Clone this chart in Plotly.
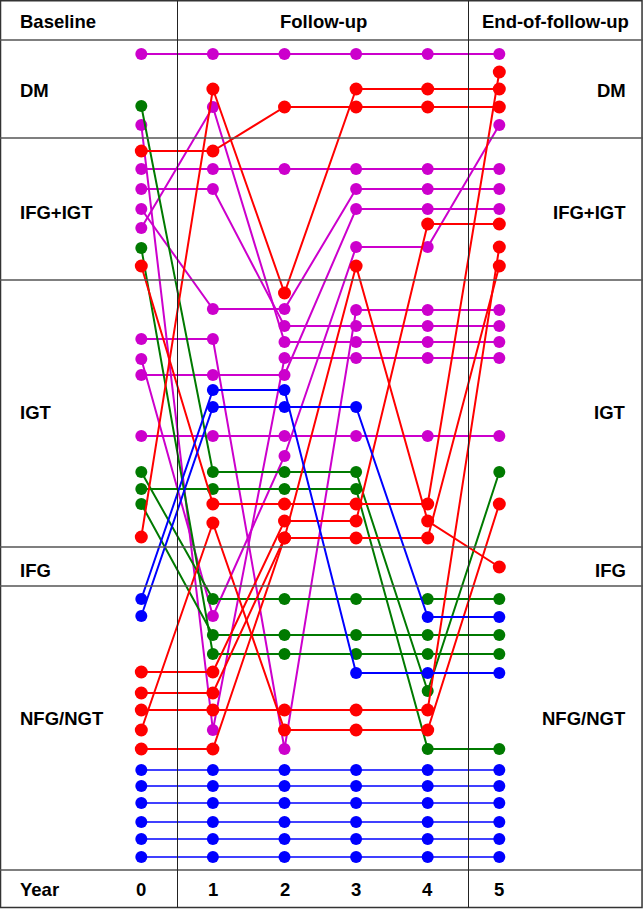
import plotly.graph_objects as go

# ---- data ----
years = [0, 1, 2, 3, 4, 5]
year_labels = ["0", "1", "2", "3", "4", "5"]
header_labels = ["Baseline", "Follow-up", "End-of-follow-up"]
state_labels = ["DM", "IFG+IGT", "IGT", "IFG", "NFG/NGT"]

# vertical position (chart units, top = 0) of each subject at each year
magenta_paths = [
    [54, 54, 54, 54, 54, 54],
    [125, 730, 358, 358, 358, 358],
    [169, 169, 169, 169, 169, 169],
    [189, 189, 326, 326, 326, 326],
    [209, 309, 309, 189, 189, 189],
    [228, 107, 342, 342, 342, 342],
    [339, 339, 749, 310, 310, 310],
    [359, 616, 456, 247, 247, 125],
    [375, 375, 375, 209, 209, 209],
    [436, 436, 436, 436, 436, 436],
]
red_paths = [
    [151, 151, 107, 107, 107, 107],
    [266, 504, 504, 504, 504, 72],
    [537, 89, 293, 89, 89, 89],
    [672, 672, 521, 521, 224, 224],
    [693, 693, 538, 266, 521, 567],
    [710, 710, 710, 710, 710, 247],
    [730, 523, 730, 730, 730, 504],
    [749, 749, 538, 538, 538, 266],
]
green_paths = [
    [106, 472, 472, 472, 691, 472],
    [248, 654, 654, 654, 654, 654],
    [472, 599, 599, 599, 599, 599],
    [489, 489, 489, 489, 749, 749],
    [504, 635, 635, 635, 635, 635],
]
blue_paths = [
    [599, 390, 390, 673, 673, 673],
    [616, 407, 407, 407, 617, 617],
]
blue_stable_levels = [770, 786, 803, 822, 839, 857]

# ---- layout constants (styles / positions) ----
W, H = 643, 910
X0_PX, STEP_PX = 141.3, 71.6
x_min = -X0_PX / STEP_PX
x_max = (W - X0_PX) / STEP_PX

band_lines = [40, 138, 280, 547, 586, 870]
state_label_y = [90, 212, 412, 570, 718]
FONT = "Liberation Sans, Arial, sans-serif"
FS = 18.5

fig = go.Figure()

def add_group(paths, color, msize, lw):
    for p in paths:
        fig.add_trace(go.Scatter(
            x=years, y=p, mode="lines+markers",
            line=dict(color=color, width=lw),
            marker=dict(color=color, size=msize),
            hoverinfo="skip", showlegend=False))

add_group([[lv] * len(years) for lv in blue_stable_levels], "#0000FF", 12, 1.5)
add_group(magenta_paths, "#CC00CC", 12, 2)
add_group(green_paths, "#007A00", 12, 2)
add_group(red_paths, "#FF0000", 13, 2)
add_group(blue_paths, "#0000FF", 12, 2)

shapes = []
# outer frame
shapes.append(dict(type="rect", xref="paper", yref="y", x0=0.0008, x1=0.9985,
                   y0=0.8, y1=907.5, line=dict(color="#333333", width=1.5)))
for yv in band_lines:
    shapes.append(dict(type="line", xref="paper", yref="y", x0=0, x1=1,
                       y0=yv, y1=yv, line=dict(color="#555555", width=1.6)))
for xv in [(177.5 - X0_PX) / STEP_PX, (468.5 - X0_PX) / STEP_PX]:
    shapes.append(dict(type="line", xref="x", yref="y", x0=xv, x1=xv,
                       y0=0.8, y1=907.5, line=dict(color="#222222", width=1)))

ann = []
def text(s, x, y, xref, anchor):
    ann.append(dict(text="<b>" + s + "</b>", x=x, y=y, xref=xref, yref="y",
                    xanchor=anchor, yanchor="middle", showarrow=False,
                    font=dict(family=FONT, size=FS, color="black")))

text(header_labels[0], 18 / W, 21, "paper", "left")
text(header_labels[1], 323.5 / W, 21, "paper", "center")
text(header_labels[2], 555.5 / W, 21, "paper", "center")
for lab, yv in zip(state_labels, state_label_y):
    text(lab, 18 / W, yv, "paper", "left")
    text(lab, 628 / W, yv, "paper", "right")
text("Year", 18 / W, 889, "paper", "left")
for yr, lab in zip(years, year_labels):
    text(lab, yr, 889, "x", "center")

fig.update_layout(
    width=W, height=H,
    margin=dict(l=0, r=0, t=0, b=0),
    paper_bgcolor="white", plot_bgcolor="white",
    xaxis=dict(range=[x_min, x_max], visible=False, fixedrange=True),
    yaxis=dict(range=[H, 0], visible=False, fixedrange=True),
    shapes=shapes, annotations=ann,
)

fig.write_html("out.html", config={"displayModeBar": False},
               post_script="document.body.style.margin='0';document.body.style.overflow='hidden';")
